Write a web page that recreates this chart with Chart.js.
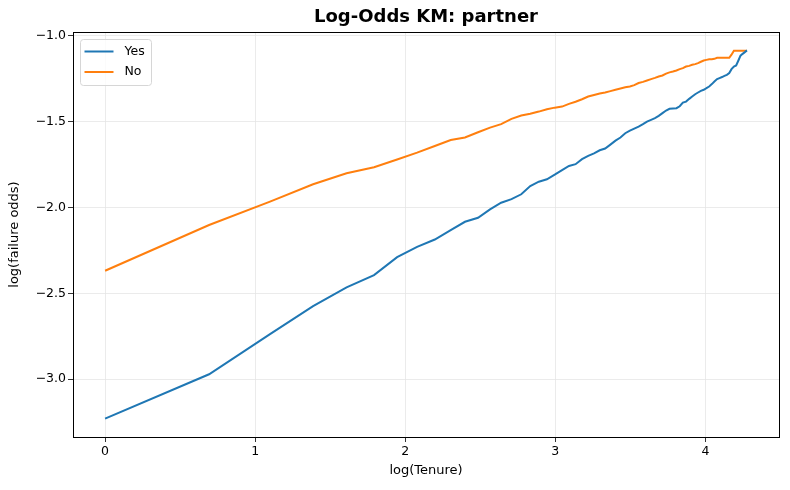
<!DOCTYPE html>
<html>
<head>
<meta charset="utf-8">
<script src="https://cdn.jsdelivr.net/npm/chart.js@4.4.0/dist/chart.umd.min.js"></script>
<style>
  html, body { margin: 0; padding: 0; background: #fff; }
  #wrap { width: 790px; height: 490px; }
</style>
</head>
<body>
<div id="wrap"><canvas id="logOddsChart" width="790" height="490"></canvas></div>
<script>
// log(Tenure) for tenure 1..72 months
const logTenure = [
  0.000, 0.693, 1.099, 1.386, 1.609, 1.792, 1.946, 2.079, 2.197, 2.303,
  2.398, 2.485, 2.565, 2.639, 2.708, 2.773, 2.833, 2.890, 2.944, 2.996,
  3.045, 3.091, 3.135, 3.178, 3.219, 3.258, 3.296, 3.332, 3.367, 3.401,
  3.434, 3.466, 3.497, 3.526, 3.555, 3.584, 3.611, 3.638, 3.664, 3.689,
  3.714, 3.738, 3.761, 3.784, 3.807, 3.829, 3.850, 3.871, 3.892, 3.912,
  3.932, 3.951, 3.970, 3.989, 4.007, 4.025, 4.043, 4.060, 4.078, 4.094,
  4.111, 4.127, 4.143, 4.159, 4.174, 4.190, 4.205, 4.220, 4.234, 4.248,
  4.263, 4.277
];

// log failure odds, partner = Yes
const yesOdds = [
  -3.229, -2.971, -2.738, -2.575, -2.466, -2.394, -2.290, -2.230, -2.187, -2.132,
  -2.084, -2.061, -2.012, -1.973, -1.952, -1.924, -1.876, -1.851, -1.837, -1.810,
  -1.783, -1.759, -1.749, -1.720, -1.701, -1.686, -1.668, -1.658, -1.635, -1.612,
  -1.594, -1.569, -1.554, -1.542, -1.530, -1.516, -1.501, -1.491, -1.481, -1.468,
  -1.452, -1.437, -1.427, -1.425, -1.423, -1.412, -1.391, -1.385, -1.369, -1.355,
  -1.342, -1.332, -1.322, -1.316, -1.307, -1.297, -1.283, -1.268, -1.254, -1.248,
  -1.242, -1.235, -1.229, -1.219, -1.196, -1.181, -1.175, -1.146, -1.118, -1.107,
  -1.097, -1.087
];

// log failure odds, partner = No
const noOdds = [
  -2.369, -2.103, -1.967, -1.866, -1.802, -1.767, -1.722, -1.682, -1.643, -1.608,
  -1.594, -1.563, -1.536, -1.516, -1.485, -1.466, -1.456, -1.443, -1.429, -1.420,
  -1.414, -1.398, -1.386, -1.371, -1.355, -1.346, -1.338, -1.332, -1.324, -1.316,
  -1.309, -1.302, -1.297, -1.289, -1.277, -1.270, -1.262, -1.254, -1.247, -1.239,
  -1.233, -1.222, -1.215, -1.210, -1.204, -1.196, -1.190, -1.181, -1.177, -1.171,
  -1.167, -1.161, -1.153, -1.146, -1.142, -1.138, -1.138, -1.136, -1.130, -1.130,
  -1.130, -1.130, -1.130, -1.130, -1.112, -1.089, -1.089, -1.089, -1.089, -1.089,
  -1.089, -1.089
];

const xTicks = [0, 1, 2, 3, 4];
const yTicks = [-3.0, -2.5, -2.0, -1.5, -1.0];

const seriesNames = ['Yes', 'No'];
const seriesColors = ['#1f77b4', '#ff7f0e'];

function toPoints(xs, ys) {
  return xs.map((x, i) => ({ x: x, y: ys[i] }));
}

function fmtTick(v, digits) {
  const s = Math.abs(v).toFixed(digits);
  return v < 0 ? '\u2212' + s : s;
}

// frame, title and in-plot legend (matplotlib style)
const axesDecor = {
  id: 'axesDecor',
  afterDraw(chart) {
    const ctx = chart.ctx;
    const a = chart.chartArea;
    ctx.save();

    ctx.strokeStyle = '#000';
    ctx.lineWidth = 1;
    ctx.strokeRect(Math.round(a.left) + 0.5, Math.round(a.top) + 0.5,
      Math.round(a.right - a.left), Math.round(a.bottom - a.top));

    ctx.fillStyle = '#000';
    ctx.font = 'bold 18px "DejaVu Sans"';
    ctx.textAlign = 'center';
    ctx.textBaseline = 'middle';
    ctx.fillText('Log-Odds KM: partner', (a.left + a.right) / 2, 17);

    // legend box
    const bx = a.left + 7.5, by = a.top + 7.5, bw = 71, bh = 46, r = 3;
    ctx.beginPath();
    ctx.roundRect(bx, by, bw, bh, r);
    ctx.fillStyle = 'rgba(255,255,255,0.8)';
    ctx.fill();
    ctx.strokeStyle = '#d6d6d6';
    ctx.lineWidth = 1;
    ctx.stroke();

    ctx.font = '12.5px "DejaVu Sans"';
    ctx.textAlign = 'left';
    chart.data.datasets.forEach((ds, i) => {
      const ly = by + 12 + i * 20.5;
      ctx.beginPath();
      ctx.moveTo(bx + 4, ly);
      ctx.lineTo(bx + 33, ly);
      ctx.strokeStyle = ds.borderColor;
      ctx.lineWidth = 2;
      ctx.stroke();
      ctx.fillStyle = '#000';
      ctx.fillText(ds.label, bx + 44, ly);
    });
    ctx.restore();
  }
};

const ctx = document.getElementById('logOddsChart');

new Chart(ctx, {
  type: 'line',
  data: {
    datasets: [
      {
        label: seriesNames[0],
        data: toPoints(logTenure, yesOdds),
        borderColor: seriesColors[0],
        borderWidth: 2,
        pointRadius: 0,
        tension: 0,
        fill: false
      },
      {
        label: seriesNames[1],
        data: toPoints(logTenure, noOdds),
        borderColor: seriesColors[1],
        borderWidth: 2,
        pointRadius: 0,
        tension: 0,
        fill: false
      }
    ]
  },
  options: {
    responsive: false,
    animation: false,
    devicePixelRatio: 1,
    layout: { padding: { left: 0, right: 11, top: 32, bottom: 0 } },
    plugins: {
      legend: { display: false },
      title: { display: false },
      tooltip: { enabled: false }
    },
    scales: {
      x: {
        type: 'linear',
        min: -0.2138,
        max: 4.4905,
        afterBuildTicks: (scale) => { scale.ticks = xTicks.map(v => ({ value: v })); },
        afterFit: (scale) => { scale.height = 53; },
        grid: { color: '#e6e6e6', lineWidth: 0.8, tickColor: '#000', tickLength: 5, drawTicks: true },
        border: { display: false },
        ticks: {
          color: '#000',
          font: { family: 'DejaVu Sans', size: 12.5 },
          padding: 2,
          maxRotation: 0,
          callback: (v) => fmtTick(v, 0)
        },
        title: {
          display: true,
          text: 'log(Tenure)',
          color: '#000',
          font: { family: 'DejaVu Sans', size: 13 },
          padding: { top: 0, bottom: 12 }
        }
      },
      y: {
        type: 'linear',
        min: -3.336,
        max: -0.980,
        afterBuildTicks: (scale) => { scale.ticks = yTicks.map(v => ({ value: v })); },
        afterFit: (scale) => { scale.width = 73; },
        grid: { color: '#e6e6e6', lineWidth: 0.8, tickColor: '#000', tickLength: 5, drawTicks: true },
        border: { display: false },
        ticks: {
          color: '#000',
          font: { family: 'DejaVu Sans', size: 12.5 },
          padding: 2,
          callback: (v) => fmtTick(v, 1)
        },
        title: {
          display: true,
          text: 'log(failure odds)',
          color: '#000',
          font: { family: 'DejaVu Sans', size: 13 },
          padding: { top: 7, bottom: 0 }
        }
      }
    }
  },
  plugins: [axesDecor]
});
</script>
</body>
</html>
